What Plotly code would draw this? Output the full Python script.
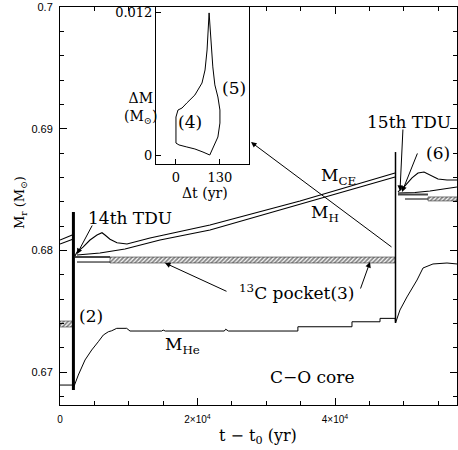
import plotly.graph_objects as go

# ---------------- data ----------------
# thermal pulses (vertical lines): time, top and bottom mass
pulse_t = [1950, 48800]
pulse_top = [0.68315, 0.68808]
pulse_bot = [0.66852, 0.67403]

# He core mass
mhe_t = [0, 1890, 1950, 2660, 3640, 4610, 5570, 6300, 7030, 7520, 8250, 9700, 10180,
         14800, 15000, 15300, 23900, 24100, 24500, 34600, 34600, 42470, 42470, 46550,
         46550, 48750, 48800, 49450, 50470, 51930, 52800, 54250, 56290, 57745]
mhe_m = [0.66893, 0.66893, 0.66869, 0.66975, 0.67099, 0.67181, 0.67249, 0.67304, 0.67331,
         0.67339, 0.67359, 0.67359, 0.67337, 0.67337, 0.67345, 0.67337, 0.67337, 0.67352,
         0.67337, 0.67337, 0.67372, 0.67372, 0.67413, 0.67413, 0.67441, 0.67441, 0.67403,
         0.67510, 0.67617, 0.67756, 0.67855, 0.67888, 0.67896, 0.67888]

# convective envelope inner border, three interpulse segments
mce1_t = [0, 1950]
mce1_m = [0.68085, 0.68130]
mce2_t = [2182, 2473, 3345, 4364, 5382, 6109, 6545, 7273, 8291, 9745, 13091, 21818, 34909, 48727]
mce2_m = [0.67953, 0.67986, 0.68027, 0.68085, 0.68126, 0.68145, 0.68126, 0.68091, 0.68063,
          0.68052, 0.68101, 0.68208, 0.68406, 0.68636]
mce3_t = [49163, 50182, 51200, 52073, 52945, 53818, 54982, 56291, 57745]
mce3_m = [0.68480, 0.68529, 0.68595, 0.68636, 0.68644, 0.68619, 0.68586, 0.68578, 0.68578]

# H-burning shell
mh1_t = [0, 1950]
mh1_m = [0.68052, 0.68093]
mh2_t = [2473, 5818, 9455, 14545, 21818, 34909, 48727]
mh2_m = [0.67962, 0.67978, 0.68011, 0.68085, 0.68167, 0.68381, 0.68603]
mh3_t = [49163, 51636, 53818, 56000, 57745]
mh3_m = [0.68471, 0.68475, 0.68488, 0.68504, 0.68521]

# partial mixing zone lines before 13C pocket forms
pmz_gray_t = [[2182, 7273], [49163, 53527]]
pmz_gray_m = [0.67945, 0.68459]
pmz_thin_t = [[2473, 7273], [50182, 53527]]
pmz_thin_m = [0.67904, 0.68422]

# 13C pockets (hatched): t start, t end, m low, m high
pocket_t0 = [0, 7273, 53527]
pocket_t1 = [1890, 48727, 57745]
pocket_lo = [0.67370, 0.67896, 0.68406]
pocket_hi = [0.67419, 0.67945, 0.68439]

# inset: 13C pocket mass extension vs time
inset_dt = [98, 103, 109, 115, 124, 130, 130, 124, 100, 80, 56, 32, 9, 0, 0, 0, 6, 18, 32,
            56, 77, 86, 92, 95, 98]
inset_dm = [0.0120, 0.00972, 0.00744, 0.00592, 0.0049, 0.0038, 0.0027, 0.00152, 0.0,
            0.00025, 0.00051, 0.00068, 0.00085, 0.00101, 0.00211, 0.00321, 0.0038, 0.00397,
            0.00439, 0.00507, 0.00608, 0.00718, 0.00887, 0.01056, 0.0120]

x_ticks = [0, 20000, 40000]
x_labels = ["0", "2×10<sup>4</sup>", "4×10<sup>4</sup>"]
y_ticks = [0.67, 0.68, 0.69, 0.70]
y_labels = ["0.67", "0.68", "0.69", "0.7"]

SERIF = "DejaVu Serif"
SANS = "Liberation Sans"
BLACK = "black"

fig = go.Figure()

def line(xs, ys, width=1, color=BLACK, xa="x", ya="y"):
    fig.add_trace(go.Scatter(x=xs, y=ys, mode="lines", line=dict(color=color, width=width),
                             xaxis=xa, yaxis=ya, hoverinfo="skip"))

# hatched pockets
for t0, t1, lo, hi in zip(pocket_t0, pocket_t1, pocket_lo, pocket_hi):
    fig.add_trace(go.Scatter(x=[t0, t1, t1, t0, t0], y=[lo, lo, hi, hi, lo], mode="lines",
                             fill="toself", line=dict(color="#333", width=0.6),
                             fillpattern=dict(shape="/", size=3, solidity=0.6,
                                              fgcolor="#111", bgcolor="white"),
                             hoverinfo="skip"))

for xs, m in zip(pmz_gray_t, pmz_gray_m):
    line(xs, [m, m], width=2, color="#444")
for xs, m in zip(pmz_thin_t, pmz_thin_m):
    line(xs, [m, m], width=1)

line(mhe_t, mhe_m)
for xs, ys in [(mce1_t, mce1_m), (mce2_t, mce2_m), (mce3_t, mce3_m),
               (mh1_t, mh1_m), (mh2_t, mh2_m), (mh3_t, mh3_m)]:
    line(xs, ys, width=1.1)

for t, top, bot, w in zip(pulse_t, pulse_top, pulse_bot, [3, 1.5]):
    line([t, t], [bot, top], width=w)

# inset curve
line(inset_dt, inset_dm, width=1, xa="x2", ya="y2")

ann = []
def text(x, y, s, size=17, xref="x", yref="y", **kw):
    ann.append(dict(x=x, y=y, text=s, xref=xref, yref=yref, showarrow=False,
                    xanchor="center", yanchor="middle",
                    font=dict(family=SERIF, size=size, color=BLACK), **kw))

def arrow(x, y, ax, ay, xref="x", yref="y"):
    ann.append(dict(x=x, y=y, ax=ax, ay=ay, xref=xref, yref=yref, text="", showarrow=True,
                    arrowhead=2, arrowsize=1.1, arrowwidth=1, arrowcolor=BLACK, standoff=0))

text(10182, 0.68266, "14th TDU")
text(50763, 0.69055, "15th TDU")
text(54981, 0.68800, "(6)")
text(4509, 0.67460, "(2)")
text(40436, 0.68611, "M<sub>CE</sub>")
text(38545, 0.68299, "M<sub>H</sub>")
text(34327, 0.67658, "<sup>13</sup>C pocket(3)")
text(17745, 0.67214, "M<sub>He</sub>")
text(36655, 0.66959, "C−O core")
text(41, 0.00279, "(4)", xref="x2", yref="y2")
text(171, 0.00566, "(5)", xref="x2", yref="y2")
text(0.204, 0.746, "ΔM<br>(M<sub>⊙</sub>)", size=14, xref="paper", yref="paper")
text(0.365, 0.532, "Δt (yr)", size=14, xref="paper", yref="paper")
text(0.4987, -0.0804, "t − t<sub>0</sub> (yr)", size=16, xref="paper", yref="paper")
text(-0.1008, 0.51, "M<sub>r</sub> (M<sub>⊙</sub>)", size=13, xref="paper", yref="paper",
     textangle=-90)

arrow(2473, 0.6797, 16, -30)
arrow(49454, 0.68488, 3, -63)
arrow(49745, 0.6848, 16, -40)
arrow(15273, 0.67896, 63, 29)
arrow(45091, 0.67904, -10, 28)
arrow(27782, 0.6889, 142, 106)

axis_common = dict(showline=True, linecolor=BLACK, linewidth=1, showgrid=False, zeroline=False,
                   ticks="inside", tickcolor=BLACK, tickwidth=1)

fig.update_layout(
    width=458, height=450,
    margin=dict(l=60, r=1, t=7, b=45, pad=0),
    paper_bgcolor="white", plot_bgcolor="white",
    showlegend=False,
    annotations=ann,
    xaxis=dict(**axis_common, range=[0, 57745], tickmode="array", tickvals=x_ticks,
               ticktext=x_labels, ticklen=7, mirror="ticks", domain=[0, 1], anchor="y",
               tickfont=dict(family=SANS, size=10, color=BLACK), ticklabelstandoff=5,
               minor=dict(dtick=5000, tick0=0, ticks="inside", ticklen=4, tickcolor=BLACK,
                          showgrid=False)),
    yaxis=dict(**axis_common, range=[0.66729, 0.70], tickmode="array", tickvals=y_ticks,
               ticktext=y_labels, ticklen=7, mirror="ticks", domain=[0, 1], anchor="x",
               tickfont=dict(family=SANS, size=11, color=BLACK), ticklabelstandoff=4,
               minor=dict(dtick=0.002, tick0=0.67, ticks="inside", ticklen=4, tickcolor=BLACK,
                          showgrid=False)),
    xaxis2=dict(**axis_common, range=[-59, 216], tickmode="array", tickvals=[0, 130],
                ticktext=["0", "130"], ticklen=5, mirror=True, domain=[0.2418, 0.4761],
                anchor="y2", tickfont=dict(family=SERIF, size=13, color=BLACK),
                ticklabelstandoff=1),
    yaxis2=dict(**axis_common, range=[-0.00076, 0.0125], tickmode="array", tickvals=[0, 0.012],
                ticktext=["0", "0.012"], ticklen=5, mirror=True, domain=[0.6055, 1.0],
                anchor="x2", tickfont=dict(family=SERIF, size=13, color=BLACK)),
)

fig.write_html("out.html")
